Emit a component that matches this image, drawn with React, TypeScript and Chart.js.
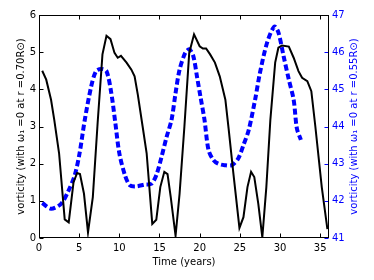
import React, { useEffect, useRef } from "react";
import { Chart, registerables } from "chart.js";

Chart.register(...registerables);

const FONT = "'DejaVu Sans', sans-serif";

const blackX = [0.4, 0.9, 1.5, 1.9, 2.5, 3.2, 3.7, 4.3, 4.75, 5.1, 5.6, 6.1, 6.7, 7.3, 7.9, 8.4, 8.9, 9.4, 9.8, 10.2, 10.9, 11.5, 11.9, 12.3, 12.9, 13.4, 14.1, 14.6, 15.1, 15.6, 16.0, 16.4, 17.0, 17.5, 18.1, 18.7, 19.3, 20.0, 20.4, 20.8, 21.3, 21.9, 22.5, 23.2, 23.6, 24.2, 24.95, 25.45, 25.95, 26.4, 26.8, 27.3, 27.8, 28.3, 28.8, 29.4, 29.8, 30.25, 31.1, 31.7, 32.3, 32.75, 33.4, 33.9, 34.4, 35.2, 35.9];
const blackY = [4.5, 4.26, 3.72, 3.18, 2.28, 0.5, 0.42, 1.5, 1.75, 1.72, 1.19, 0.15, 1.1, 3.1, 4.94, 5.44, 5.35, 4.98, 4.85, 4.9, 4.72, 4.53, 4.35, 3.86, 3.0, 2.28, 0.38, 0.49, 1.37, 1.78, 1.72, 1.1, 0.06, 1.19, 3.0, 4.98, 5.48, 5.16, 5.1, 5.1, 4.94, 4.72, 4.35, 3.72, 2.95, 1.73, 0.27, 0.56, 1.37, 1.78, 1.64, 0.92, 0.02, 1.37, 3.18, 4.72, 5.12, 5.18, 5.15, 4.85, 4.49, 4.31, 4.22, 3.95, 3.0, 1.37, 0.24];

const blueX = [0.4, 1.5, 2.75, 3.6, 4.45, 5.05, 5.7, 6.5, 7.1, 7.75, 8.4, 9.0, 9.5, 10.0, 10.7, 11.3, 12.1, 13.2, 14.0, 14.6, 15.25, 15.9, 16.5, 17.0, 17.5, 18.2, 18.7, 19.2, 19.7, 20.1, 20.6, 21.1, 21.7, 22.3, 23.1, 24.0, 24.8, 25.45, 26.1, 26.9, 27.5, 28.4, 29.3, 29.8, 30.45, 31.1, 31.7, 32.1, 32.6];
const blueY = [41.94, 41.79, 41.92, 42.24, 42.69, 43.28, 44.18, 45.08, 45.49, 45.55, 45.49, 44.9, 44.1, 43.28, 42.69, 42.42, 42.39, 42.44, 42.46, 42.69, 43.18, 43.73, 44.18, 44.9, 45.53, 45.98, 46.08, 45.9, 45.3, 44.8, 44.18, 43.37, 43.1, 43.0, 42.96, 42.96, 43.14, 43.5, 43.9, 44.72, 45.44, 46.26, 46.69, 46.53, 45.89, 45.26, 44.72, 43.95, 43.64];

const xTitle = "Time (years)";
const leftTitle = "vorticity (with \u03c9\u2081 =0 at r =0.70R\u2299)";
const rightTitle = "vorticity (with \u03c9\u2081 =0 at r =0.55R\u2299)";
const BLUE = "#0000ff";

const frameTicks = {
  id: "frameTicks",
  afterDraw(chart: any) {
    const { ctx, chartArea: a, scales } = chart;
    const L = Math.round(a.left) + 0.5;
    const R = Math.round(a.right) - 0.5;
    const T = Math.round(a.top) + 0.5;
    const B = Math.round(a.bottom) - 0.5;
    const TL = 4;
    ctx.save();
    ctx.lineWidth = 1;
    const seg = (x1: number, y1: number, x2: number, y2: number) => {
      ctx.beginPath();
      ctx.moveTo(x1, y1);
      ctx.lineTo(x2, y2);
      ctx.stroke();
    };
    ctx.strokeStyle = "#000";
    scales.x.ticks.forEach((t: any) => {
      const p = Math.round(scales.x.getPixelForValue(t.value)) + 0.5;
      seg(p, B, p, B - TL);
      seg(p, T, p, T + TL);
    });
    scales.y.ticks.forEach((t: any) => {
      const p = Math.round(scales.y.getPixelForValue(t.value)) + 0.5;
      seg(L, p, L + TL, p);
    });
    ctx.strokeStyle = BLUE;
    scales.y2.ticks.forEach((t: any) => {
      const p = Math.round(scales.y2.getPixelForValue(t.value)) + 0.5;
      seg(R, p, R - TL, p);
    });
    ctx.strokeStyle = "#000";
    ctx.strokeRect(L, T, R - L, B - T);
    // right axis title (reads bottom to top)
    ctx.fillStyle = BLUE;
    ctx.font = "10px " + FONT;
    ctx.translate(357, (a.top + a.bottom) / 2);
    ctx.rotate(-Math.PI / 2);
    ctx.textAlign = "center";
    ctx.textBaseline = "alphabetic";
    ctx.fillText(rightTitle, 0, 0);
    ctx.restore();
  },
};

export default function App() {
  const ref = useRef<HTMLCanvasElement>(null);
  useEffect(() => {
    if (!ref.current) return;
    const chart = new Chart(ref.current, {
      type: "line",
      data: {
        datasets: [
          {
            data: blackX.map((x, i) => ({ x, y: blackY[i] })),
            borderColor: "#000",
            borderWidth: 2,
            pointRadius: 0,
            tension: 0,
            yAxisID: "y",
          },
          {
            data: blueX.map((x, i) => ({ x, y: blueY[i] })),
            borderColor: BLUE,
            borderWidth: 4,
            borderDash: [6, 3],
            pointRadius: 0,
            tension: 0.3,
            yAxisID: "y2",
          },
        ],
      },
      options: {
        responsive: false,
        animation: false,
        layout: { padding: { top: 15, left: 0, right: 0, bottom: 0 } },
        plugins: { legend: { display: false }, tooltip: { enabled: false } },
        scales: {
          x: {
            type: "linear",
            min: 0,
            max: 36.1,
            grid: { display: false, drawTicks: false },
            border: { display: false },
            afterBuildTicks: (s: any) => {
              s.ticks = [0, 5, 10, 15, 20, 25, 30, 35].map((v) => ({ value: v }));
            },
            ticks: { color: "#000", font: { family: FONT, size: 10 }, padding: 4, maxRotation: 0 },
            title: { display: true, text: xTitle, color: "#000", font: { family: FONT, size: 10 }, padding: { top: 0, bottom: 11.5 } },
            afterFit: (s: any) => { s.height = 42; },
          },
          y: {
            type: "linear",
            position: "left",
            min: 0,
            max: 6,
            grid: { display: false, drawTicks: false },
            border: { display: false },
            ticks: { stepSize: 1, color: "#000", font: { family: FONT, size: 10 }, padding: 3 },
            title: { display: true, text: leftTitle, color: "#000", font: { family: FONT, size: 10 }, padding: { top: 15, bottom: 0 } },
            afterFit: (s: any) => { s.width = 39; },
          },
          y2: {
            type: "linear",
            position: "right",
            min: 41,
            max: 47,
            grid: { display: false, drawTicks: false },
            border: { display: false },
            ticks: { stepSize: 1, color: BLUE, font: { family: FONT, size: 10 }, padding: 3 },
            afterFit: (s: any) => { s.width = 45; },
          },
        },
      },
      plugins: [frameTicks],
    } as any);
    return () => chart.destroy();
  }, []);
  return (
    <div style={{ position: "absolute", left: 0, top: 0, width: 374, height: 280 }}>
      <canvas ref={ref} width={374} height={280} style={{ display: "block" }} />
    </div>
  );
}
